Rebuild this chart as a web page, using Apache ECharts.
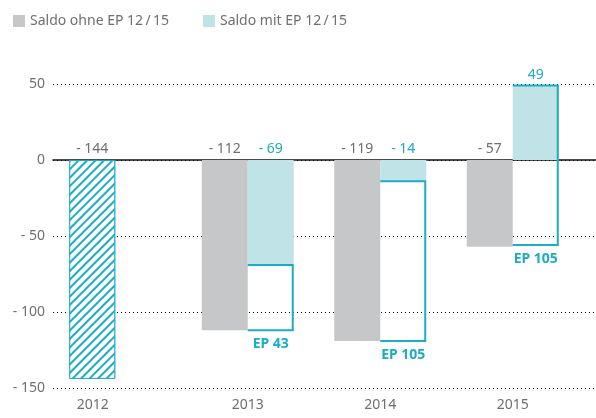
<!DOCTYPE html>
<html>
<head>
<meta charset="utf-8">
<script src="https://cdn.jsdelivr.net/npm/echarts@6/dist/echarts.min.js"></script>
<style>
  html, body { margin: 0; padding: 0; background: #fff; }
  #chart { width: 596px; height: 418px; }
</style>
</head>
<body>
<div id="chart"></div>
<script>
// data
const years = ['2012', '2013', '2014', '2015'];
const saldoOhne = [-144, -112, -119, -57];      // 2012 drawn hatched
const saldoMit = [null, -69, -14, 49];
const epTop = [null, -69, -14, 49];
const epBottom = [null, -112, -119, -56];
const epLabels = ['', 'EP 43', 'EP 105', 'EP 105'];

const GRAY = '#c6c7c9';
const TEAL = '#1badc4';
const LIGHT = '#bfe3e7';
const TXT = '#6f6f6f';
const FONT = '"Noto Sans", sans-serif';
const BAR_W = 46;

function fmt(v) {
  return v < 0 ? '- ' + Math.abs(v) : String(v);
}

const chart = echarts.init(document.getElementById('chart'));

const ohneData = saldoOhne.map(function (v, i) {
  if (i === 0) {
    return {
      value: v,
      itemStyle: {
        color: '#fff',
        borderColor: TEAL,
        borderWidth: 1,
        decal: {
          symbol: 'rect',
          color: TEAL,
          backgroundColor: '#fff',
          dashArrayX: [1, 0],
          dashArrayY: [1.4, 3.3],
          rotation: -Math.PI / 4
        }
      }
    };
  }
  return v;
});

const options = {
  animation: false,
  textStyle: { fontFamily: FONT },
  legend: {
    left: 8,
    top: 9,
    itemWidth: 12,
    itemHeight: 12,
    itemGap: 34,
    icon: 'rect',
    textStyle: { color: TXT, fontSize: 14, fontFamily: FONT },
    data: ['Saldo ohne EP 12\u2009/\u200915', 'Saldo mit EP 12\u2009/\u200915']
  },
  grid: [
    { left: 53, right: 0, top: 84, bottom: 30 },
    { left: 49, right: 17, top: 84, bottom: 30 }
  ],
  xAxis: [
    {
      gridIndex: 0,
      type: 'category',
      data: years,
      axisLine: { onZero: true, lineStyle: { color: '#111', width: 1.5 } },
      axisTick: { show: false },
      axisLabel: { show: false }
    },
    {
      gridIndex: 1,
      type: 'category',
      data: years,
      axisLine: { show: false },
      axisTick: { show: false },
      axisLabel: {
        color: TXT,
        fontSize: 14,
        margin: 10,
        formatter: function (v, i) {
          return i === 0 ? '{s|' + v + '}' : v;
        },
        rich: { s: { color: TXT, fontSize: 14, padding: [0, 45, 0, 0] } }
      }
    }
  ],
  yAxis: [
    {
      gridIndex: 0,
      type: 'value',
      min: -150,
      max: 50,
      interval: 50,
      axisLine: { show: false },
      axisTick: { show: false },
      axisLabel: { color: TXT, fontSize: 14, margin: 8, formatter: fmt },
      splitLine: { lineStyle: { color: '#000', type: [1, 3], width: 1 } }
    },
    {
      gridIndex: 1,
      type: 'value',
      min: -150,
      max: 50,
      interval: 50,
      show: false
    }
  ],
  series: [
    {
      name: 'Saldo ohne EP 12\u2009/\u200915',
      type: 'bar',
      xAxisIndex: 1,
      yAxisIndex: 1,
      barWidth: BAR_W,
      barGap: 0,
      itemStyle: { color: GRAY },
      label: {
        show: true,
        position: 'top',
        distance: 4,
        color: TXT,
        fontSize: 14,
        formatter: function (p) { return fmt(p.value); }
      },
      data: ohneData
    },
    {
      name: 'Saldo mit EP 12\u2009/\u200915',
      type: 'bar',
      xAxisIndex: 1,
      yAxisIndex: 1,
      barWidth: BAR_W,
      barGap: 0,
      itemStyle: { color: LIGHT },
      label: {
        show: true,
        position: 'top',
        distance: 4,
        color: TEAL,
        fontSize: 14,
        formatter: function (p) { return fmt(p.value); }
      },
      data: saldoMit
    },
    {
      name: 'EP',
      type: 'custom',
      xAxisIndex: 1,
      yAxisIndex: 1,
      z: 5,
      renderItem: function (params, api) {
        const i = api.value(0);
        const t = api.coord([i, api.value(1)]);
        const b = api.coord([i, api.value(2)]);
        const x0 = t[0];
        const x1 = t[0] + BAR_W - 1;
        return {
          type: 'group',
          children: [
            {
              type: 'polyline',
              shape: { points: [[x0, t[1]], [x1, t[1]], [x1, b[1]], [x0, b[1]]] },
              style: { stroke: TEAL, lineWidth: 2, fill: null }
            },
            {
              type: 'text',
              x: x0 + BAR_W / 2,
              y: b[1] + 7,
              style: {
                text: epLabels[i],
                fill: TEAL,
                fontSize: 14,
                fontWeight: 'bold',
                fontFamily: FONT,
                align: 'center',
                verticalAlign: 'top'
              }
            }
          ]
        };
      },
      data: years.map(function (y, i) {
        return [i, epTop[i], epBottom[i]];
      }).filter(function (d) { return d[1] !== null; })
    }
  ]
};

chart.setOption(options);
</script>
</body>
</html>
